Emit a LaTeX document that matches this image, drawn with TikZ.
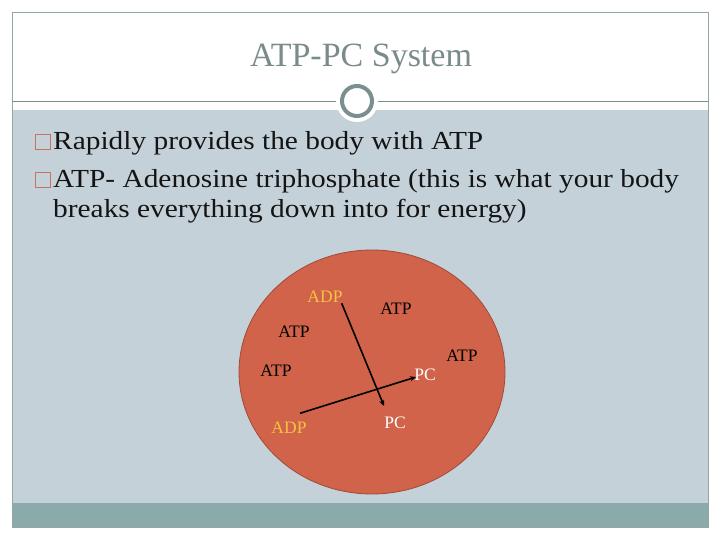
\documentclass[tikz,border=0pt]{standalone}
\usepackage{fontspec}
\setmainfont{Liberation Serif}
\newfontfamily\bodyfont[FakeStretch=1.13]{Liberation Serif}
\usetikzlibrary{arrows.meta,shapes.geometric}
\definecolor{slidegray}{HTML}{C5D1D8}
\definecolor{barteal}{HTML}{8AABAA}
\definecolor{ringc}{HTML}{7A9090}
\definecolor{titlec}{HTML}{7A8B8B}
\definecolor{cellc}{HTML}{D0634A}
\definecolor{celledge}{HTML}{A04A38}
\definecolor{adpc}{HTML}{F5C242}
\definecolor{bulletc}{HTML}{C8735E}
\tikzset{
  lbl/.style={font=\fontsize{17.5}{20}\selectfont, inner sep=0pt},
  adp/.style={lbl, text=adpc},
  atp/.style={lbl, text=black},
  pc/.style={lbl, text=white},
  body/.style={font=\bodyfont\fontsize{26}{30}\selectfont, anchor=base west, inner sep=0pt, text=black!92},
  bul/.style={draw=bulletc, line width=1.3pt, minimum size=15pt, inner sep=0pt},
  rx/.style={line width=1.6pt, -{Stealth[length=6pt,width=5pt]}}
}
\begin{document}
\begin{tikzpicture}[x=1pt,y=-1pt]
\useasboundingbox (0,0) rectangle (720,540);
\fill[white] (0,0) rectangle (720,540);
% slide frame
\fill[slidegray] (12,110) rectangle (708,503);
\fill[barteal] (12,503) rectangle (708,527);
\draw[ringc!80, line width=0.6pt] (12,12) rectangle (708,527);
\draw[ringc, line width=0.8pt] (12,101) -- (708,101);
% circle ornament
\fill[white] (357,101) circle (21);
\draw[ringc, line width=4pt, fill=white] (357,101) circle (15);
% title
\node[font=\fontsize{34}{38}\selectfont, text=titlec, anchor=base, inner sep=0pt] (title) at (361,67) {ATP-PC System};
% bullets
\node[bul] (b1) at (43,142) {};
\node[bul] (b2) at (43,180) {};
\node[body] (t1) at (53,150) {Rapidly provides the body with ATP};
\node[body] (t2) at (53,188) {ATP- Adenosine triphosphate (this is what your body};
\node[body] (t3) at (53,217.5) {breaks everything down into for energy)};
% cell
\node[ellipse, draw=celledge, line width=0.8pt, fill=cellc, minimum width=266pt, minimum height=244pt, inner sep=0pt] (cell) at (372,372) {};
% labels
\node[adp] (adp1) at (325,297) {ADP};
\node[atp] (atp1) at (396,309) {ATP};
\node[atp] (atp2) at (294,332) {ATP};
\node[atp] (atp3) at (276,371) {ATP};
\node[atp] (atp4) at (462,356) {ATP};
\node[pc] (pc1) at (425,375) {PC};
\node[adp] (adp2) at (289,428) {ADP};
\node[pc] (pc2) at (395,423) {PC};
% arrows
\coordinate (a1s) at (341.7,303.3);
\coordinate (a1e) at (384,406);
\coordinate (a2s) at (300,413.3);
\coordinate (a2e) at (416,377);
\draw[rx] (a1s) -- (a1e);
\draw[rx] (a2s) -- (a2e);
\end{tikzpicture}
\end{document}
